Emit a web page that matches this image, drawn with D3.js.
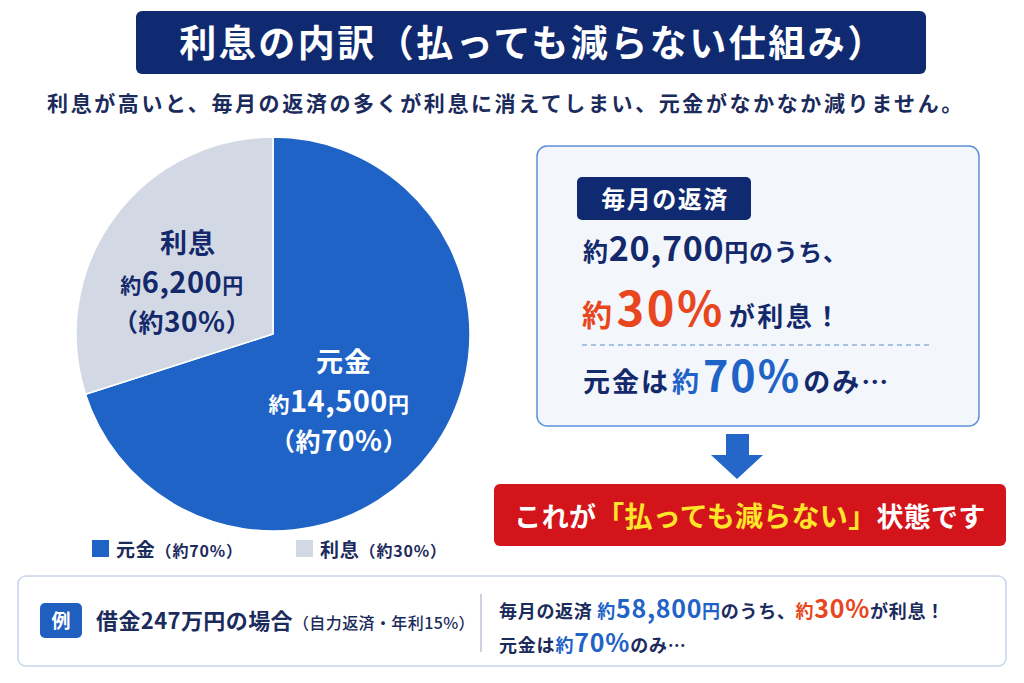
<!DOCTYPE html>
<html>
<head>
<meta charset="utf-8">
<script src="https://cdn.jsdelivr.net/npm/d3@7"></script>
<style>
	html, body { margin: 0; padding: 0; background: #ffffff; }
	#outer { width: 1024px; height: 683px; }
	text { font-family: 'Noto Sans CJK JP', 'Noto Sans', sans-serif; font-weight: 700; }
</style>
</head>
<body>
<div id="outer"></div>
<script>
////////// DATA //////////
const categories = ['元金', '利息'];
const amounts = [14500, 6200];
const shares = [70, 30];
const monthlyTotal = 20700;
const exampleLoan = 247;
const exampleRate = 15;
const exampleMonthly = 58800;

////////// Hard Coded Defs //////////
const NAVY = '#13296b';
const BLUE = '#1f63c6';
const GREY = '#d3d9e4';
const ORANGE = '#e8461e';
const fmt = d3.format(',');

// draws one line of text with mixed sizes / colours
const richText = (g, x, y, segs, anchor, spacing) => {
	const t = g.append('text')
		.attr('x', x)
		.attr('y', y)
		.attr('text-anchor', anchor || 'start')
		.attr('letter-spacing', spacing || 0);
	segs.forEach(s => {
		t.append('tspan')
			.attr('font-size', s.size)
			.attr('fill', s.color)
			.attr('font-weight', s.weight || 700)
			.attr('dx', s.dx || 0)
			.text(s.text);
	});
	return t;
};

function render () {
	const svg = d3.select('#outer').append('svg')
		.attr('width', 1024)
		.attr('height', 683);

	// ********************************************* TITLE ********************************************* //
	svg.append('rect')
		.attr('x', 136).attr('y', 11).attr('width', 790).attr('height', 63)
		.attr('rx', 6).attr('fill', '#0f2a70');
	svg.append('text')
		.attr('x', 533).attr('y', 57)
		.attr('text-anchor', 'middle')
		.attr('font-size', 37).attr('fill', '#ffffff')
		.attr('letter-spacing', 2.5)
		.text('利息の内訳（払っても減らない仕組み）');

	svg.append('text')
		.attr('x', 506).attr('y', 111)
		.attr('text-anchor', 'middle')
		.attr('font-size', 21).attr('fill', '#1b2b5c')
		.attr('letter-spacing', 2.6)
		.text('利息が高いと、毎月の返済の多くが利息に消えてしまい、元金がなかなか減りません。');

	// ********************************************* PIE ********************************************* //
	const cx = 273, cy = 334, r = 197;
	const pie = d3.pie().sort(null).value(d => d.value);
	const pieData = pie(categories.map((c, i) => ({ name: c, value: amounts[i], share: shares[i] })));
	const arc = d3.arc().innerRadius(0).outerRadius(r);
	const pieG = svg.append('g').attr('transform', `translate(${cx},${cy})`);
	const colors = d3.scaleOrdinal().domain(categories).range([BLUE, GREY]);

	pieG.selectAll('path')
		.data(pieData)
		.join('path')
		.attr('d', arc)
		.attr('fill', d => colors(d.data.name))
		.attr('stroke', '#ffffff')
		.attr('stroke-width', 1.5);

	// slice labels
	const labelPos = [{ x: 339, y: 362, color: '#ffffff', nx: 5 }, { x: 182, y: 243, color: NAVY, nx: 6 }];
	pieData.forEach((d, i) => {
		const p = labelPos[i];
		const g = svg.append('g');
		richText(g, p.x + p.nx, p.y + 10, [{ text: d.data.name, size: 27, color: p.color }], 'middle', 1);
		richText(g, p.x, p.y + 50, [
			{ text: '約', size: 21, color: p.color },
			{ text: fmt(d.data.value), size: 29, color: p.color },
			{ text: '円', size: 21, color: p.color }
		], 'middle', 0.5);
		richText(g, p.x, p.y + 89, [
			{ text: '（約', size: 25, color: p.color },
			{ text: d.data.share + '%', size: 28, color: p.color },
			{ text: '）', size: 25, color: p.color }
		], 'middle', 0.5);
	});

	// legend
	const legendX = [92, 296];
	categories.forEach((c, i) => {
		svg.append('rect')
			.attr('x', legendX[i]).attr('y', 540).attr('width', 17).attr('height', 17)
			.attr('fill', colors(c));
		richText(svg, legendX[i] + 24, 557, [
			{ text: c, size: 19, color: '#1b2b5c' },
			{ text: '（約' + shares[i] + '%）', size: 16, color: '#1b2b5c' }
		], 'start', 0.8);
	});

	// ********************************************* RIGHT PANEL ********************************************* //
	svg.append('rect')
		.attr('x', 537).attr('y', 146).attr('width', 442).attr('height', 280)
		.attr('rx', 10).attr('fill', '#f3f6fb')
		.attr('stroke', '#5d90d9').attr('stroke-width', 1.5);
	svg.append('rect')
		.attr('x', 577).attr('y', 177).attr('width', 174).attr('height', 43)
		.attr('rx', 5).attr('fill', '#0f2a70');
	svg.append('text')
		.attr('x', 665).attr('y', 208)
		.attr('text-anchor', 'middle')
		.attr('font-size', 24).attr('fill', '#ffffff')
		.attr('letter-spacing', 1.5)
		.text('毎月の返済');

	richText(svg, 583, 261, [
		{ text: '約', size: 25, color: NAVY },
		{ text: fmt(monthlyTotal), size: 34, color: NAVY },
		{ text: '円のうち、', size: 24, color: NAVY }
	], 'start', 0.7);
	richText(svg, 582, 326, [
		{ text: '約', size: 30, color: ORANGE },
		{ text: shares[1] + '%', size: 47, color: ORANGE, dx: 2 },
		{ text: 'が利息！', size: 26, color: NAVY, dx: 4 }
	], 'start', 2.5);
	svg.append('line')
		.attr('x1', 582).attr('x2', 932).attr('y1', 345).attr('y2', 345)
		.attr('stroke', '#8fb0e0').attr('stroke-width', 1.5)
		.attr('stroke-dasharray', '5,4');
	richText(svg, 583, 392, [
		{ text: '元金は', size: 27, color: NAVY },
		{ text: '約', size: 27, color: BLUE, dx: 2 },
		{ text: shares[0] + '%', size: 43, color: BLUE, dx: 2 },
		{ text: 'のみ…', size: 27, color: NAVY, dx: 2 }
	], 'start', 2);

	// arrow
	svg.append('path')
		.attr('d', 'M726,434 L749,434 L749,455 L763,455 L737,479 L711,455 L726,455 Z')
		.attr('fill', '#2467c9');

	// red banner
	svg.append('rect')
		.attr('x', 494).attr('y', 484).attr('width', 512).attr('height', 62)
		.attr('rx', 6).attr('fill', '#d3141b');
	richText(svg, 750, 527, [
		{ text: 'これが', size: 27, color: '#ffffff' },
		{ text: '「払っても減らない」', size: 28, color: '#ffe42a' },
		{ text: '状態です', size: 27, color: '#ffffff' }
	], 'middle', 0.3);

	// ********************************************* EXAMPLE BOX ********************************************* //
	svg.append('rect')
		.attr('x', 18).attr('y', 576).attr('width', 988).attr('height', 90)
		.attr('rx', 8).attr('fill', '#ffffff')
		.attr('stroke', '#c6d4ea').attr('stroke-width', 1.5);
	svg.append('rect')
		.attr('x', 40).attr('y', 603).attr('width', 42).attr('height', 35)
		.attr('rx', 5).attr('fill', '#1f5fbf');
	svg.append('text')
		.attr('x', 61).attr('y', 628)
		.attr('text-anchor', 'middle')
		.attr('font-size', 19).attr('fill', '#ffffff')
		.text('例');
	richText(svg, 96, 629, [
		{ text: '借金' + exampleLoan + '万円の場合', size: 22, color: '#1b2b5c' },
		{ text: '（自力返済・年利' + exampleRate + '%）', size: 16, color: '#1b2b5c', weight: 500 }
	], 'start', 0.4);
	svg.append('line')
		.attr('x1', 481).attr('x2', 481).attr('y1', 594).attr('y2', 652)
		.attr('stroke', '#9aa6bd').attr('stroke-width', 1);
	richText(svg, 499, 618, [
		{ text: '毎月の返済 ', size: 18, color: '#1b2b5c' },
		{ text: '約', size: 18, color: BLUE },
		{ text: fmt(exampleMonthly), size: 25, color: BLUE },
		{ text: '円', size: 18, color: BLUE },
		{ text: 'のうち、', size: 18, color: '#1b2b5c' },
		{ text: '約', size: 18, color: ORANGE },
		{ text: shares[1] + '%', size: 25, color: ORANGE },
		{ text: 'が利息！', size: 18, color: '#1b2b5c' }
	], 'start', 0.7);
	richText(svg, 499, 652, [
		{ text: '元金は', size: 18, color: '#1b2b5c' },
		{ text: '約', size: 18, color: BLUE },
		{ text: shares[0] + '%', size: 25, color: BLUE },
		{ text: 'のみ…', size: 18, color: '#1b2b5c' }
	], 'start', 0.8);
}

render();
</script>
</body>
</html>
